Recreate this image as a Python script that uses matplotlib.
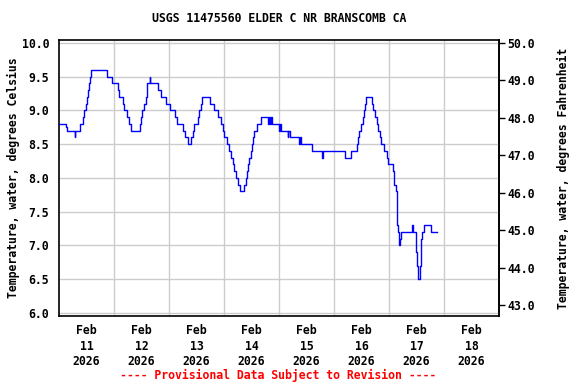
import numpy as np, matplotlib
matplotlib.use('Agg'); import matplotlib.pyplot as plt
import matplotlib.dates as mdates
import pandas as pd

# water temperature, deg C; step breakpoints (hours after 2026-02-11 00:00)
hours = [0.0, 2.9, 3.3, 6.8, 7.1, 9.2, 10.6, 11.1, 11.7, 12.4, 12.8, 13.0, 13.7, 14.0,
         21.1, 23.0, 25.6, 26.2, 28.1, 28.5, 29.5, 30.5, 31.6, 35.3, 35.8, 36.4, 37.2,
         37.8, 38.3, 38.5, 39.6, 39.8, 43.4, 44.5, 46.7, 48.4, 50.6, 51.6, 54.0, 55.1,
         56.4, 57.5, 58.3, 59.0, 60.6, 61.2, 61.8, 62.5, 66.0, 67.8, 69.5, 70.6, 71.4,
         72.1, 73.2, 74.0, 74.9, 75.8, 76.4, 77.1, 78.1, 79.0, 80.7, 81.5, 82.1, 82.6,
         83.1, 83.6, 84.2, 84.8, 85.3, 86.3, 88.1, 91.2, 91.5, 92.0, 92.3, 92.8, 96.0,
         96.3, 97.0, 99.8, 100.1, 100.7, 104.9, 105.1, 105.6, 110.4, 114.8, 115.0,
         125.0, 127.5, 130.0, 130.6, 131.0, 131.8, 132.5, 133.1, 133.7, 134.1, 136.4,
         137.1, 137.9, 138.6, 139.3, 140.0, 140.5, 141.9, 143.0, 143.7, 145.8, 146.0,
         146.3, 147.1, 147.6, 147.9, 148.2, 148.5, 149.0, 149.4, 154.1, 154.4, 155.6,
         156.1, 156.6, 157.4, 157.8, 158.3, 159.3, 162.2, 165.0]
temp_c = [8.8, 8.75, 8.7, 8.6, 8.7, 8.8, 8.9, 9.0, 9.1, 9.2, 9.3, 9.4, 9.5, 9.6,
          9.5, 9.4, 9.3, 9.2, 9.1, 9.0, 8.9, 8.8, 8.7, 8.8, 8.9, 9.0, 9.1,
          9.2, 9.3, 9.4, 9.5, 9.4, 9.3, 9.2, 9.1, 9.0, 8.9, 8.8, 8.7, 8.6,
          8.5, 8.6, 8.7, 8.8, 8.9, 9.0, 9.1, 9.2, 9.1, 9.0, 8.9, 8.8, 8.7,
          8.6, 8.5, 8.4, 8.3, 8.2, 8.1, 8.0, 7.9, 7.8, 7.9, 8.0, 8.1, 8.2,
          8.3, 8.4, 8.5, 8.6, 8.7, 8.8, 8.9, 8.8, 8.9, 8.8, 8.9, 8.8, 8.7,
          8.8, 8.7, 8.6, 8.7, 8.6, 8.5, 8.6, 8.5, 8.4, 8.3, 8.4,
          8.3, 8.4, 8.5, 8.6, 8.7, 8.8, 8.9, 9.0, 9.1, 9.2, 9.1,
          9.0, 8.9, 8.8, 8.7, 8.6, 8.5, 8.4, 8.3, 8.2, 8.1, 8.0,
          7.9, 7.8, 7.3, 7.2, 7.1, 7.0, 7.1, 7.2, 7.3, 7.2, 6.9,
          6.7, 6.5, 6.7, 7.1, 7.2, 7.3, 7.2, 7.2]

start = pd.Timestamp('2026-02-11 00:00')
times = [start + pd.Timedelta(hours=h) for h in hours]
day_labels = pd.date_range('2026-02-11 12:00', periods=8, freq='D')
day_lines = pd.date_range('2026-02-11', periods=9, freq='D')

plt.rcParams['font.family'] = 'DejaVu Sans Mono'
plt.rcParams['font.weight'] = 'bold'
FS = 8.3

fig = plt.figure(figsize=(5.76, 3.84), dpi=100)
ax = fig.add_axes([59/576, 1-316/384, 440/576, 276/384])
ax.plot(times, temp_c, drawstyle='steps-post', color='#0000ff', lw=1.0, zorder=3)

ax.set_xlim(day_lines[0], day_lines[-1])
ax.set_ylim(5.951, 10.045)
ax.set_xticks(day_labels)
ax.set_xticklabels([d.strftime('%b\n%d\n%Y') for d in day_labels], fontsize=FS, fontweight='bold', linespacing=1.25)
ax.set_xticks(day_lines[1:-1], minor=True)
ax.tick_params(axis='x', which='both', length=0, pad=6)
ax.set_yticks(np.arange(6.0, 10.01, 0.5))
ax.set_yticklabels(['%.1f' % v for v in np.arange(6.0, 10.01, 0.5)], fontsize=FS, fontweight='bold')
ax.tick_params(axis='y', length=0, pad=7)
ax.grid(True, which='minor', axis='x', color='#cccccc', lw=1)
ax.grid(True, which='major', axis='y', color='#cccccc', lw=1)
ax.set_axisbelow(True)
for s in ax.spines.values(): s.set_linewidth(1.2)
ax.set_ylabel('Temperature, water, degrees Celsius', fontsize=FS, fontweight='bold', labelpad=1)

sec = ax.secondary_yaxis('right', functions=(lambda c: c*1.8+32, lambda f: (f-32)/1.8))
sec.set_yticks(np.arange(43, 50.1, 1.0))
sec.set_yticklabels(['%.1f' % v for v in np.arange(43, 50.1, 1.0)], fontsize=FS, fontweight='bold')
sec.tick_params(length=4, width=1, pad=2)
sec.spines['right'].set_linewidth(1.2)
sec.set_ylabel('Temperature, water, degrees Fahrenheit', fontsize=FS, fontweight='bold', labelpad=16)

fig.text(279/576, 1-19/384, 'USGS 11475560 ELDER C NR BRANSCOMB CA', ha='center', va='center', fontsize=FS, fontweight='bold')
fig.text(278/576, 1-375/384, '---- Provisional Data Subject to Revision ----', ha='center', va='center', fontsize=FS, fontweight='bold', color='red')

fig.savefig('out.png', dpi=100)
